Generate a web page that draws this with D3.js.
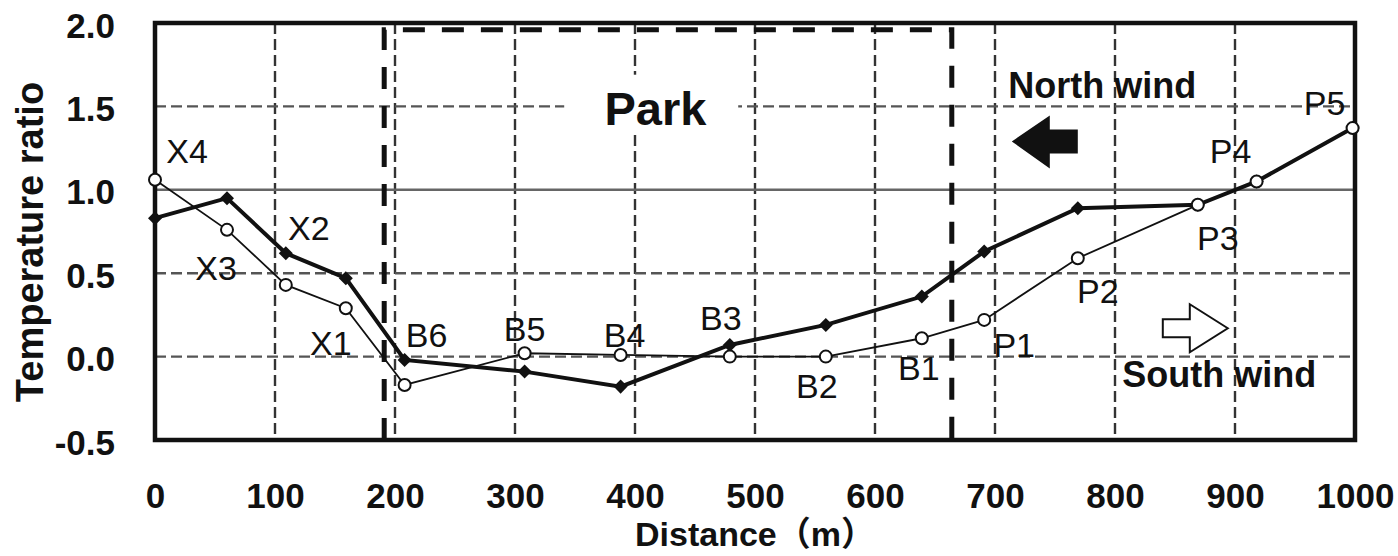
<!DOCTYPE html>
<html>
<head>
<meta charset="utf-8">
<script src="https://cdn.jsdelivr.net/npm/d3@7"></script>
<style>
  html, body { margin: 0; padding: 0; background: #fff; }
  svg { display: block; }
  text { font-family: "Liberation Sans", Arial, "Noto Sans CJK JP", sans-serif; fill: #111; }
  .tick text { font-weight: bold; font-size: 35px; }
</style>
</head>
<body>
<div id="chart"></div>
<script>
// stations along the transect, distance in m
const stations = ['X4', 'X3', 'X2', 'X1', 'B6', 'B5', 'B4', 'B3', 'B2', 'B1', 'P1', 'P2', 'P3', 'P4', 'P5'];
const distance = [0, 60, 109, 159, 208, 308, 388, 479, 559, 639, 691, 769, 869, 918, 998];

// temperature ratio for the two wind directions
const northWind = [0.83, 0.95, 0.62, 0.47, -0.02, -0.09, -0.18, 0.07, 0.19, 0.36, 0.63, 0.89, 0.91, 1.05, 1.37];
const southWind = [1.06, 0.76, 0.43, 0.29, -0.17, 0.02, 0.01, 0.0, 0.0, 0.11, 0.22, 0.59, 0.91, 1.05, 1.37];

const xTicks = [0, 100, 200, 300, 400, 500, 600, 700, 800, 900, 1000];
const yTicks = [-0.5, 0.0, 0.5, 1.0, 1.5, 2.0];

// park extent (m)
const parkStart = 191, parkEnd = 664;

const W = 1398, H = 556;
const margin = { top: 23, right: 43, bottom: 116, left: 155 };
const innerW = W - margin.left - margin.right,
      innerH = H - margin.top - margin.bottom;

const x = d3.scaleLinear().domain([0, 1000]).range([0, innerW]);
const y = d3.scaleLinear().domain([-0.5, 2.0]).range([innerH, 0]);

const svg = d3.select('#chart').append('svg').attr('width', W).attr('height', H);
const g = svg.append('g').attr('transform', 'translate(' + margin.left + ',' + margin.top + ')');

// grid
g.selectAll('.vgrid').data(xTicks.slice(1, -1)).enter().append('line')
  .attr('x1', d => x(d)).attr('x2', d => x(d))
  .attr('y1', 0).attr('y2', innerH)
  .attr('stroke', '#333').attr('stroke-width', 2.4).attr('stroke-dasharray', '11,5');

g.selectAll('.hgrid').data([0.0, 0.5, 1.5]).enter().append('line')
  .attr('x1', 0).attr('x2', innerW)
  .attr('y1', d => y(d)).attr('y2', d => y(d))
  .attr('stroke', '#555').attr('stroke-width', 2.4).attr('stroke-dasharray', '11,5');

g.append('line')
  .attr('x1', 0).attr('x2', innerW)
  .attr('y1', y(1.0)).attr('y2', y(1.0))
  .attr('stroke', '#666').attr('stroke-width', 2.6);

// park outline
g.append('path')
  .attr('d', 'M' + x(parkStart) + ',' + innerH + 'V' + y(1.96) + 'H' + x(parkEnd) + 'V' + innerH)
  .attr('fill', 'none').attr('stroke', '#111').attr('stroke-width', 5)
  .attr('stroke-dasharray', '22,17');

// white patch behind "Park"
g.append('rect')
  .attr('x', x(341)).attr('y', y(1.69))
  .attr('width', x(486) - x(341)).attr('height', y(1.34) - y(1.69))
  .attr('fill', '#fff');

g.append('text').attr('x', x(417)).attr('y', y(1.39))
  .attr('text-anchor', 'middle').attr('font-weight', 'bold').attr('font-size', 47)
  .text('Park');

// wind annotations
g.append('text').attr('x', x(711)).attr('y', y(1.55))
  .attr('font-weight', 'bold').attr('font-size', 36)
  .text('North wind');

g.append('text').attr('x', x(806)).attr('y', y(-0.18))
  .attr('font-weight', 'bold').attr('font-size', 36)
  .text('South wind');

const northArrow = [[0, 0], [38, -26], [38, -12], [66, -12], [66, 12], [38, 12], [38, 27]];
const southArrow = [[0, 0], [-38, -24], [-38, -9], [-65, -9], [-65, 9], [-38, 9], [-38, 24]];

g.append('path')
  .attr('transform', 'translate(' + x(714) + ',' + y(1.29) + ')')
  .attr('d', d3.line()(northArrow) + 'Z')
  .attr('fill', '#111');

g.append('path')
  .attr('transform', 'translate(' + x(894) + ',' + y(0.17) + ')')
  .attr('d', d3.line()(southArrow) + 'Z')
  .attr('fill', '#fff').attr('stroke', '#111').attr('stroke-width', 2);

// frame
g.append('rect')
  .attr('x', 0).attr('y', 0).attr('width', innerW).attr('height', innerH)
  .attr('fill', 'none').attr('stroke', '#111').attr('stroke-width', 4.5);

// series
const line = d3.line().x(d => x(d[0])).y(d => y(d[1]));
const northPts = distance.map((d, i) => [d, northWind[i]]);
const southPts = distance.map((d, i) => [d, southWind[i]]);

g.append('path').datum(southPts).attr('d', line)
  .attr('fill', 'none').attr('stroke', '#111').attr('stroke-width', 1.8);

g.append('path').datum(northPts).attr('d', line)
  .attr('fill', 'none').attr('stroke', '#111').attr('stroke-width', 4);

g.selectAll('.north').data(northPts).enter().append('path')
  .attr('transform', d => 'translate(' + x(d[0]) + ',' + y(d[1]) + ')')
  .attr('d', d3.symbol().type(d3.symbolDiamond2).size(125))
  .attr('fill', '#111');

g.selectAll('.south').data(southPts).enter().append('circle')
  .attr('cx', d => x(d[0])).attr('cy', d => y(d[1])).attr('r', 6)
  .attr('fill', '#fff').attr('stroke', '#111').attr('stroke-width', 2);

// station labels: which series they sit on, and offset from the point
const labelSeries = ['s', 's', 'n', 's', 'n', 's', 's', 'n', 's', 's', 's', 's', 's', 's', 's'];
const labelOffsets = [
  [32, -17], [-11, 50], [23, -13], [-15, 47], [22, -13],
  [0, -12], [4, -8], [-9, -15], [-9, 41], [-3, 42],
  [30, 37], [20, 45], [20, 45], [-26, -18], [-28, -13]
];

g.selectAll('.station').data(stations).enter().append('text')
  .attr('x', (d, i) => x(distance[i]) + labelOffsets[i][0])
  .attr('y', (d, i) => y(labelSeries[i] === 'n' ? northWind[i] : southWind[i]) + labelOffsets[i][1])
  .attr('text-anchor', 'middle').attr('font-size', 34)
  .text(d => d);

// axes
const xAxis = g.append('g').attr('transform', 'translate(0,' + innerH + ')')
  .call(d3.axisBottom(x).tickValues(xTicks).tickSize(0).tickPadding(43).tickFormat(d3.format('d')));
xAxis.select('.domain').remove();

const yAxis = g.append('g')
  .call(d3.axisLeft(y).tickValues(yTicks).tickSize(0).tickPadding(40).tickFormat(d3.format('.1f')));
yAxis.select('.domain').remove();
yAxis.selectAll('text').attr('dy', '0.4em').text(d => d3.format('.1f')(d).replace('−', '-'));

svg.append('text')
  .attr('x', margin.left + innerW / 2).attr('y', 546)
  .attr('text-anchor', 'middle').attr('font-weight', 'bold').attr('font-size', 34)
  .text('Distance（m）');

svg.append('text')
  .attr('transform', 'translate(43,' + 242 + ') rotate(-90)')
  .attr('text-anchor', 'middle').attr('font-weight', 'bold').attr('font-size', 38)
  .text('Temperature ratio');
</script>
</body>
</html>
